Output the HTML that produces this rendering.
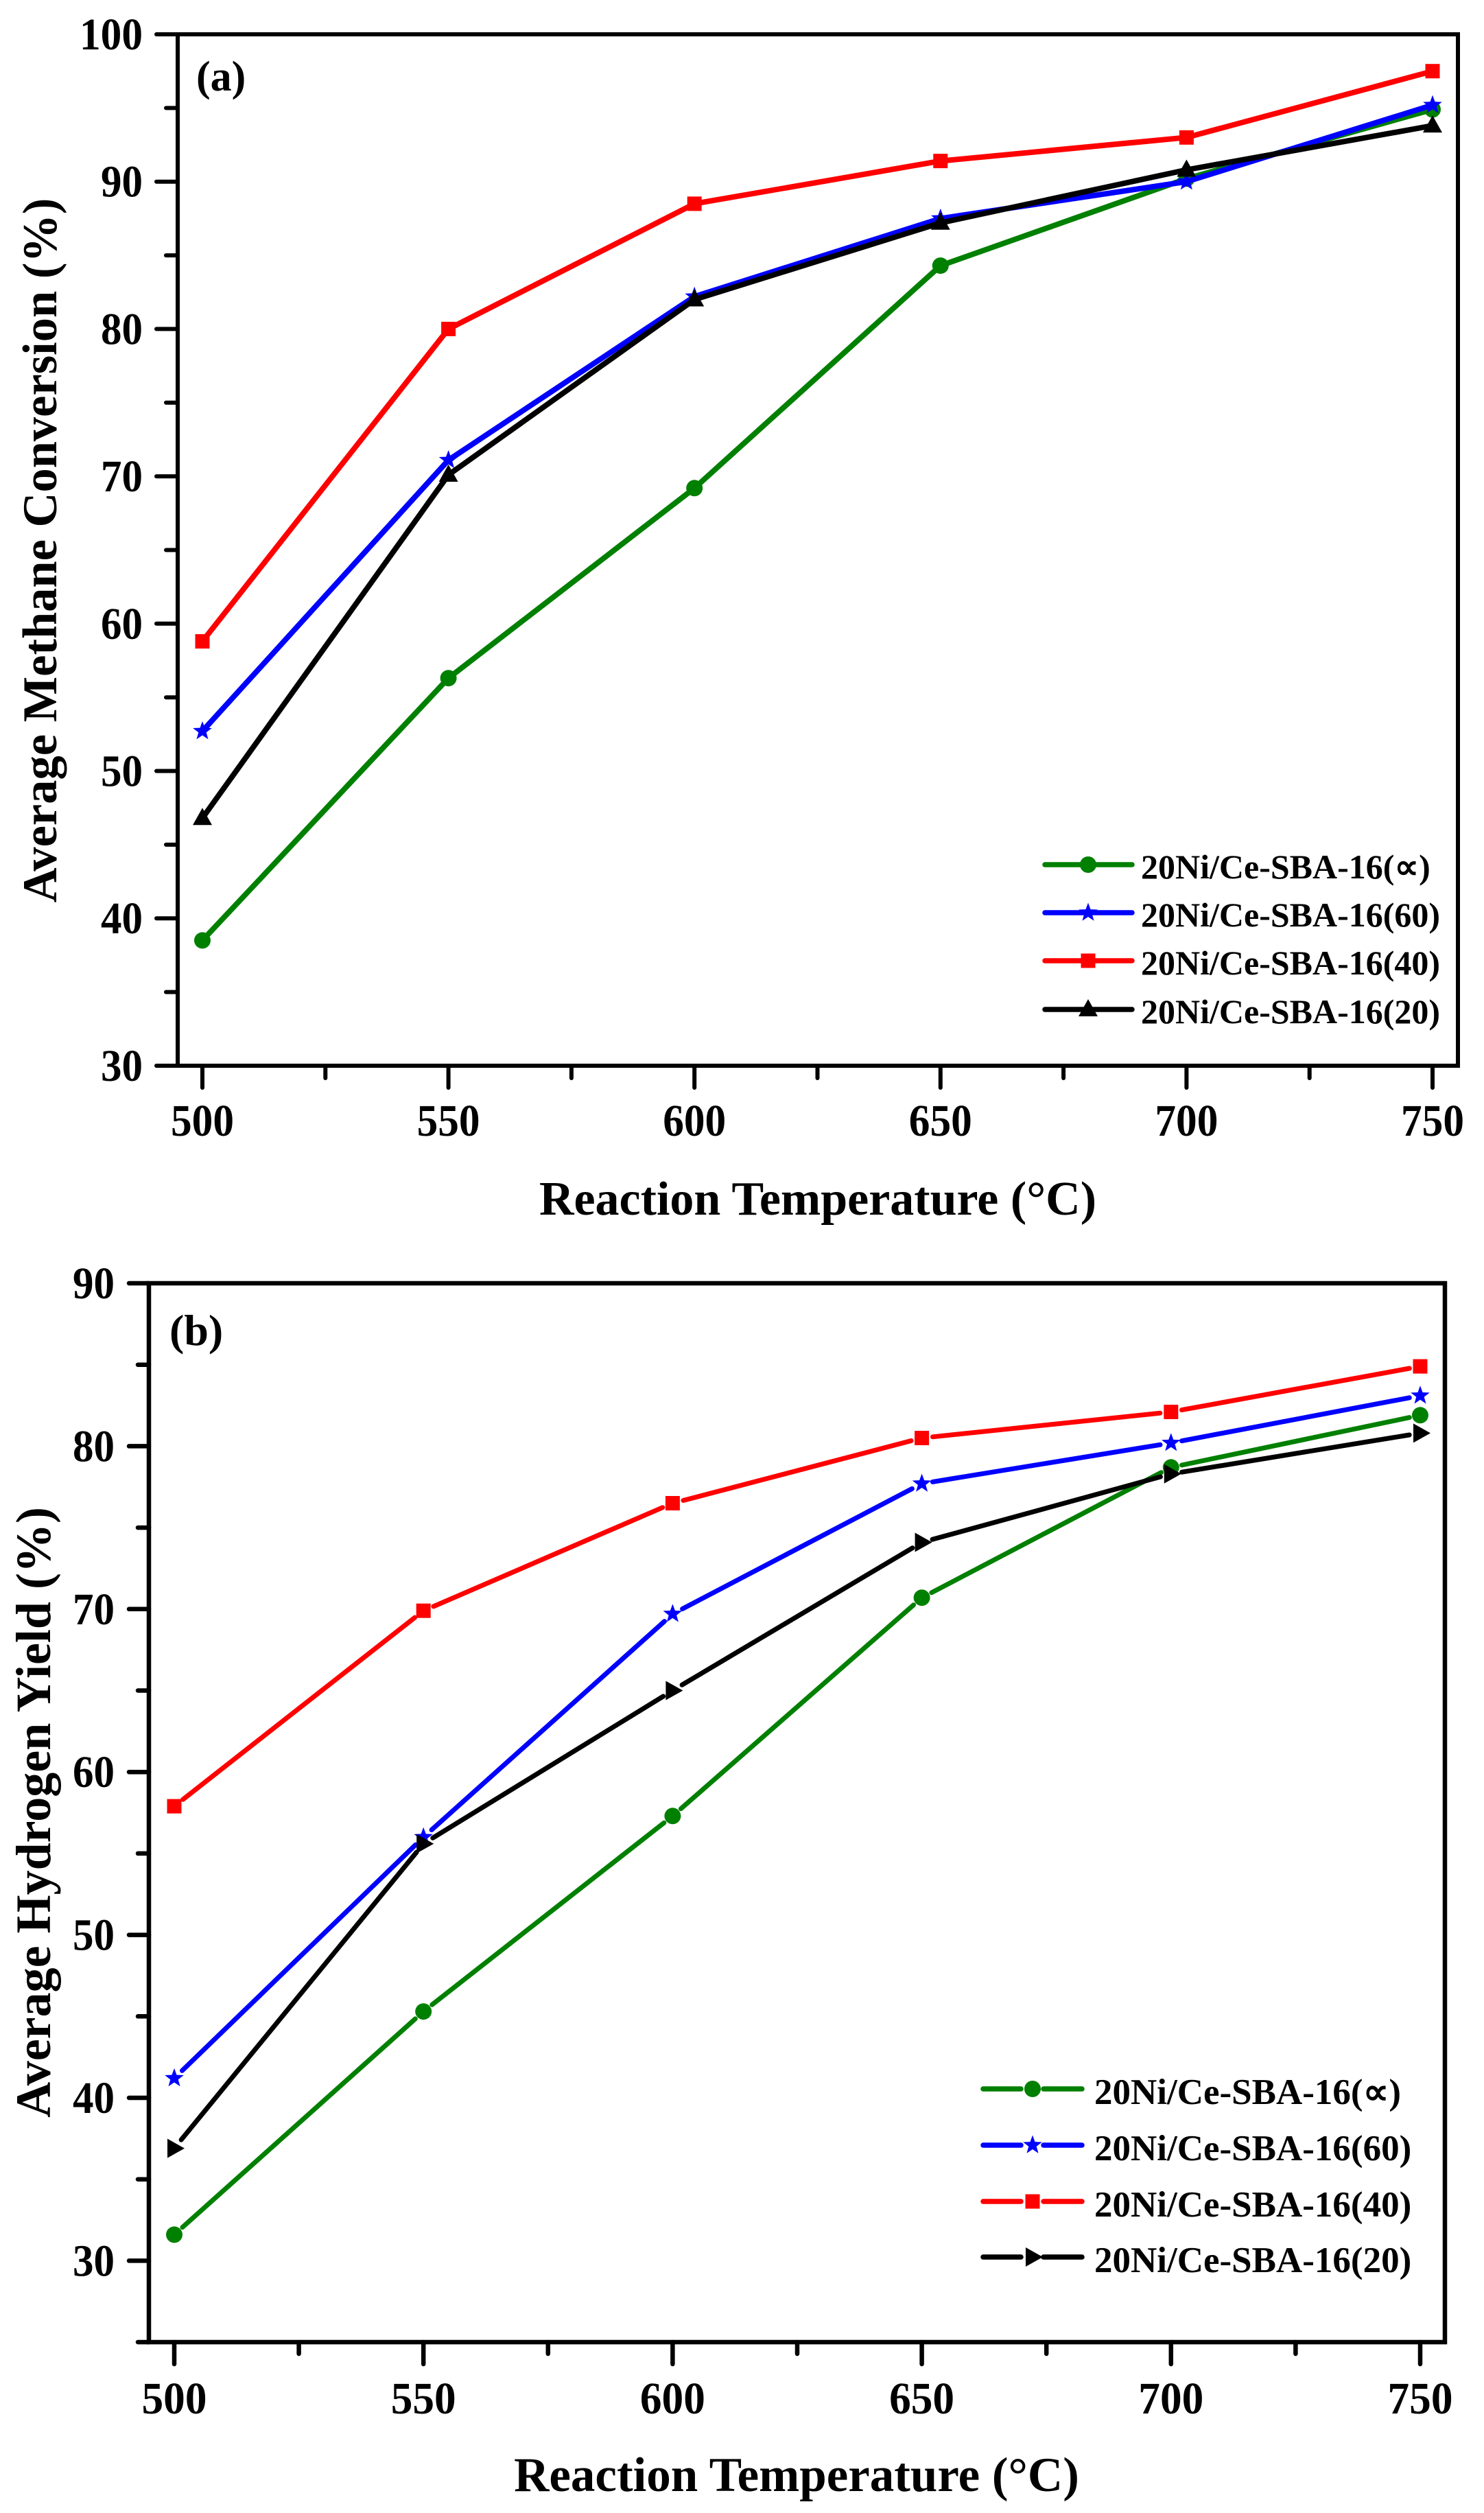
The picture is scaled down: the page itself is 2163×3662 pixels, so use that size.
<!DOCTYPE html>
<html>
<head>
<meta charset="utf-8">
<style>
html,body{margin:0;padding:0;background:#fff;}
svg{display:block;}
text{font-family:"Liberation Serif","Times New Roman",serif;font-weight:bold;fill:#000;}
</style>
</head>
<body>
<svg xmlns="http://www.w3.org/2000/svg" width="2163" height="3662" viewBox="0 0 2163 3662">
<rect x="0" y="0" width="2163" height="3662" fill="#fff"/>
<defs>
  <circle id="mc" cx="0" cy="0" r="12"/>
  <rect id="ms" x="-10.5" y="-10.5" width="21" height="21"/>
  <polygon id="mst" points="0,-14.5 3.53,-4.85 13.79,-4.48 5.71,1.85 8.52,11.73 0,6 -8.52,11.73 -5.71,1.85 -13.79,-4.48 -3.53,-4.85"/>
  <polygon id="mtu" points="0,-15 14,10 -14,10"/>
  <polygon id="mtr" points="-10,-14 15,0 -10,14"/>
</defs>

<!-- ================= PANEL (a) ================= -->
<g stroke="#000" stroke-width="6" stroke-linecap="round" fill="none">
  <rect x="259" y="50" width="1866" height="1503" stroke-linejoin="miter" stroke-linecap="butt"/>
  <line x1="228" y1="50" x2="259" y2="50"/>
  <line x1="228" y1="264.7" x2="259" y2="264.7"/>
  <line x1="228" y1="479.4" x2="259" y2="479.4"/>
  <line x1="228" y1="694.1" x2="259" y2="694.1"/>
  <line x1="228" y1="908.8" x2="259" y2="908.8"/>
  <line x1="228" y1="1123.5" x2="259" y2="1123.5"/>
  <line x1="228" y1="1338.2" x2="259" y2="1338.2"/>
  <line x1="228" y1="1553" x2="259" y2="1553"/>
  <line x1="242" y1="157.4" x2="259" y2="157.4"/>
  <line x1="242" y1="372.1" x2="259" y2="372.1"/>
  <line x1="242" y1="586.8" x2="259" y2="586.8"/>
  <line x1="242" y1="801.5" x2="259" y2="801.5"/>
  <line x1="242" y1="1016.2" x2="259" y2="1016.2"/>
  <line x1="242" y1="1230.9" x2="259" y2="1230.9"/>
  <line x1="242" y1="1445.6" x2="259" y2="1445.6"/>
  <line x1="295" y1="1553" x2="295" y2="1585"/>
  <line x1="653.6" y1="1553" x2="653.6" y2="1585"/>
  <line x1="1012.2" y1="1553" x2="1012.2" y2="1585"/>
  <line x1="1370.8" y1="1553" x2="1370.8" y2="1585"/>
  <line x1="1729.4" y1="1553" x2="1729.4" y2="1585"/>
  <line x1="2088" y1="1553" x2="2088" y2="1585"/>
  <line x1="474.3" y1="1553" x2="474.3" y2="1571"/>
  <line x1="832.9" y1="1553" x2="832.9" y2="1571"/>
  <line x1="1191.5" y1="1553" x2="1191.5" y2="1571"/>
  <line x1="1550.1" y1="1553" x2="1550.1" y2="1571"/>
  <line x1="1908.7" y1="1553" x2="1908.7" y2="1571"/>
</g>

<g font-size="66" text-anchor="end">
  <text x="208" y="72" textLength="92" lengthAdjust="spacingAndGlyphs">100</text>
  <text x="208" y="286.7" textLength="61" lengthAdjust="spacingAndGlyphs">90</text>
  <text x="208" y="501.4" textLength="61" lengthAdjust="spacingAndGlyphs">80</text>
  <text x="208" y="716.1" textLength="61" lengthAdjust="spacingAndGlyphs">70</text>
  <text x="208" y="930.8" textLength="61" lengthAdjust="spacingAndGlyphs">60</text>
  <text x="208" y="1145.5" textLength="61" lengthAdjust="spacingAndGlyphs">50</text>
  <text x="208" y="1360.2" textLength="61" lengthAdjust="spacingAndGlyphs">40</text>
  <text x="208" y="1575" textLength="61" lengthAdjust="spacingAndGlyphs">30</text>
</g>
<g font-size="66" text-anchor="middle">
  <text x="295" y="1655" textLength="92" lengthAdjust="spacingAndGlyphs">500</text>
  <text x="653.6" y="1655" textLength="92" lengthAdjust="spacingAndGlyphs">550</text>
  <text x="1012.2" y="1655" textLength="92" lengthAdjust="spacingAndGlyphs">600</text>
  <text x="1370.8" y="1655" textLength="92" lengthAdjust="spacingAndGlyphs">650</text>
  <text x="1729.4" y="1655" textLength="92" lengthAdjust="spacingAndGlyphs">700</text>
  <text x="2088" y="1655" textLength="92" lengthAdjust="spacingAndGlyphs">750</text>
</g>
<text x="1192" y="1770" font-size="70" text-anchor="middle">Reaction Temperature (°C)</text>
<text transform="translate(82,802) rotate(-90)" font-size="70.5" text-anchor="middle">Average Methane Conversion (%)</text>
<text x="286" y="132" font-size="62">(a)</text>

<polyline fill="none" stroke="#008000" stroke-width="8" stroke-linejoin="round" stroke-linecap="round" points="295,1370.4 653.6,988.2 1012.2,711.3 1370.8,387.1 1729.4,260.4 2088,159.5"/>
<g fill="#008000">
  <use href="#mc" x="295" y="1370.4"/><use href="#mc" x="653.6" y="988.2"/><use href="#mc" x="1012.2" y="711.3"/>
  <use href="#mc" x="1370.8" y="387.1"/><use href="#mc" x="1729.4" y="260.4"/><use href="#mc" x="2088" y="159.5"/>
</g>
<polyline fill="none" stroke="#0000ff" stroke-width="8" stroke-linejoin="round" stroke-linecap="round" points="295,1065.5 653.6,670.5 1012.2,432.2 1370.8,318.4 1729.4,264.7 2088,153.1"/>
<g fill="#0000ff">
  <use href="#mst" x="295" y="1065.5"/><use href="#mst" x="653.6" y="670.5"/><use href="#mst" x="1012.2" y="432.2"/>
  <use href="#mst" x="1370.8" y="318.4"/><use href="#mst" x="1729.4" y="264.7"/><use href="#mst" x="2088" y="153.1"/>
</g>
<polyline fill="none" stroke="#ff0000" stroke-width="8" stroke-linejoin="round" stroke-linecap="round" points="295,934.6 653.6,479.4 1012.2,296.9 1370.8,234.6 1729.4,200.3 2088,103.7"/>
<g fill="#ff0000">
  <use href="#ms" x="295" y="934.6"/><use href="#ms" x="653.6" y="479.4"/><use href="#ms" x="1012.2" y="296.9"/>
  <use href="#ms" x="1370.8" y="234.6"/><use href="#ms" x="1729.4" y="200.3"/><use href="#ms" x="2088" y="103.7"/>
</g>
<polyline fill="none" stroke="#000" stroke-width="8" stroke-linejoin="round" stroke-linecap="round" points="295,1192.2 653.6,692 1012.2,436.5 1370.8,324.8 1729.4,247.5 2088,183.1"/>
<g fill="#000">
  <use href="#mtu" x="295" y="1192.2"/><use href="#mtu" x="653.6" y="692"/><use href="#mtu" x="1012.2" y="436.5"/>
  <use href="#mtu" x="1370.8" y="324.8"/><use href="#mtu" x="1729.4" y="247.5"/><use href="#mtu" x="2088" y="183.1"/>
</g>

<g stroke-width="7.5" stroke-linecap="round">
  <line x1="1523" y1="1260" x2="1650" y2="1260" stroke="#008000"/>
  <line x1="1523" y1="1330" x2="1650" y2="1330" stroke="#0000ff"/>
  <line x1="1523" y1="1400" x2="1650" y2="1400" stroke="#ff0000"/>
  <line x1="1523" y1="1471" x2="1650" y2="1471" stroke="#000"/>
</g>
<use href="#mc" x="1586" y="1260" fill="#008000"/>
<use href="#mst" x="1586" y="1330" fill="#0000ff"/>
<use href="#ms" x="1586" y="1400" fill="#ff0000"/>
<use href="#mtu" x="1586" y="1471" fill="#000"/>
<g font-size="50">
  <text x="1663" y="1280">20Ni/Ce-SBA-16(∝)</text>
  <text x="1663" y="1350">20Ni/Ce-SBA-16(60)</text>
  <text x="1663" y="1420">20Ni/Ce-SBA-16(40)</text>
  <text x="1663" y="1491">20Ni/Ce-SBA-16(20)</text>
</g>

<!-- ================= PANEL (b) ================= -->
<g stroke="#000" stroke-width="6.5" stroke-linecap="round" fill="none">
  <rect x="217" y="1870" width="1889" height="1543" stroke-linejoin="miter" stroke-linecap="butt"/>
  <line x1="188" y1="1870" x2="217" y2="1870"/>
  <line x1="188" y1="2107.4" x2="217" y2="2107.4"/>
  <line x1="188" y1="2344.8" x2="217" y2="2344.8"/>
  <line x1="188" y1="2582.2" x2="217" y2="2582.2"/>
  <line x1="188" y1="2819.6" x2="217" y2="2819.6"/>
  <line x1="188" y1="3057" x2="217" y2="3057"/>
  <line x1="188" y1="3294.4" x2="217" y2="3294.4"/>
  <line x1="201" y1="1988.7" x2="217" y2="1988.7"/>
  <line x1="201" y1="2226.1" x2="217" y2="2226.1"/>
  <line x1="201" y1="2463.5" x2="217" y2="2463.5"/>
  <line x1="201" y1="2700.9" x2="217" y2="2700.9"/>
  <line x1="201" y1="2938.3" x2="217" y2="2938.3"/>
  <line x1="201" y1="3175.7" x2="217" y2="3175.7"/>
  <line x1="201" y1="3413" x2="217" y2="3413"/>
  <line x1="254" y1="3413" x2="254" y2="3445"/>
  <line x1="617.2" y1="3413" x2="617.2" y2="3445"/>
  <line x1="980.4" y1="3413" x2="980.4" y2="3445"/>
  <line x1="1343.6" y1="3413" x2="1343.6" y2="3445"/>
  <line x1="1706.8" y1="3413" x2="1706.8" y2="3445"/>
  <line x1="2070" y1="3413" x2="2070" y2="3445"/>
  <line x1="435.6" y1="3413" x2="435.6" y2="3430"/>
  <line x1="798.8" y1="3413" x2="798.8" y2="3430"/>
  <line x1="1162" y1="3413" x2="1162" y2="3430"/>
  <line x1="1525.2" y1="3413" x2="1525.2" y2="3430"/>
  <line x1="1888.4" y1="3413" x2="1888.4" y2="3430"/>
</g>

<g font-size="66" text-anchor="end">
  <text x="167" y="1892" textLength="61" lengthAdjust="spacingAndGlyphs">90</text>
  <text x="167" y="2129.4" textLength="61" lengthAdjust="spacingAndGlyphs">80</text>
  <text x="167" y="2366.8" textLength="61" lengthAdjust="spacingAndGlyphs">70</text>
  <text x="167" y="2604.2" textLength="61" lengthAdjust="spacingAndGlyphs">60</text>
  <text x="167" y="2841.6" textLength="61" lengthAdjust="spacingAndGlyphs">50</text>
  <text x="167" y="3079" textLength="61" lengthAdjust="spacingAndGlyphs">40</text>
  <text x="167" y="3316.4" textLength="61" lengthAdjust="spacingAndGlyphs">30</text>
</g>
<g font-size="66" text-anchor="middle">
  <text x="254" y="3517" textLength="95" lengthAdjust="spacingAndGlyphs">500</text>
  <text x="617.2" y="3517" textLength="95" lengthAdjust="spacingAndGlyphs">550</text>
  <text x="980.4" y="3517" textLength="95" lengthAdjust="spacingAndGlyphs">600</text>
  <text x="1343.6" y="3517" textLength="95" lengthAdjust="spacingAndGlyphs">650</text>
  <text x="1706.8" y="3517" textLength="95" lengthAdjust="spacingAndGlyphs">700</text>
  <text x="2070" y="3517" textLength="95" lengthAdjust="spacingAndGlyphs">750</text>
</g>
<text x="1161" y="3630" font-size="71" text-anchor="middle">Reaction Temperature (°C)</text>
<text transform="translate(73,2641) rotate(-90)" font-size="72" text-anchor="middle">Average Hydrogen Yield (%)</text>
<text x="247" y="1960" font-size="64">(b)</text>

<g fill="none" stroke-width="7" stroke-linecap="round" stroke="#008000">
  <line x1="265.9" y1="3245.7" x2="605.3" y2="2941.9"/>
  <line x1="629.8" y1="2921.3" x2="967.8" y2="2656.2"/>
  <line x1="992.4" y1="2635.8" x2="1331.6" y2="2338.7"/>
  <line x1="1357.8" y1="2320.8" x2="1692.6" y2="2145.7"/>
  <line x1="1722.5" y1="2135.0" x2="2054.3" y2="2065.6"/>
</g>
<g fill="#008000">
  <use href="#mc" x="254" y="3256.4"/><use href="#mc" x="617.2" y="2931.2"/><use href="#mc" x="980.4" y="2646.3"/>
  <use href="#mc" x="1343.6" y="2328.2"/><use href="#mc" x="1706.8" y="2138.3"/><use href="#mc" x="2070" y="2062.3"/>
</g>
<g fill="none" stroke-width="7" stroke-linecap="round" stroke="#0000ff">
  <line x1="265.5" y1="3017.4" x2="605.7" y2="2688.3"/>
  <line x1="629.1" y1="2666.5" x2="968.5" y2="2362.6"/>
  <line x1="994.6" y1="2344.5" x2="1329.4" y2="2169.4"/>
  <line x1="1359.4" y1="2159.4" x2="1691.0" y2="2105.3"/>
  <line x1="1722.5" y1="2099.7" x2="2054.3" y2="2036.8"/>
</g>
<g fill="#0000ff">
  <use href="#mst" x="254" y="3028.5"/><use href="#mst" x="617.2" y="2677.2"/><use href="#mst" x="980.4" y="2351.9"/>
  <use href="#mst" x="1343.6" y="2162"/><use href="#mst" x="1706.8" y="2102.7"/><use href="#mst" x="2070" y="2033.8"/>
</g>
<g fill="none" stroke-width="7" stroke-linecap="round" stroke="#ff0000">
  <line x1="266.6" y1="2622.2" x2="604.6" y2="2357.1"/>
  <line x1="631.9" y1="2340.9" x2="965.7" y2="2196.8"/>
  <line x1="995.9" y1="2186.5" x2="1328.1" y2="2099.5"/>
  <line x1="1359.5" y1="2093.8" x2="1690.9" y2="2059.2"/>
  <line x1="1722.5" y1="2054.6" x2="2054.3" y2="1994.0"/>
</g>
<g fill="#ff0000">
  <use href="#ms" x="254" y="2632.1"/><use href="#ms" x="617.2" y="2347.2"/><use href="#ms" x="980.4" y="2190.5"/>
  <use href="#ms" x="1343.6" y="2095.5"/><use href="#ms" x="1706.8" y="2057.5"/><use href="#ms" x="2070" y="1991.1"/>
</g>
<g fill="none" stroke-width="7" stroke-linecap="round" stroke="#000">
  <line x1="264.1" y1="3118.2" x2="607.1" y2="2699.1"/>
  <line x1="630.8" y1="2678.3" x2="966.8" y2="2471.9"/>
  <line x1="994.1" y1="2455.3" x2="1329.9" y2="2255.7"/>
  <line x1="1359.0" y1="2243.3" x2="1691.4" y2="2152.0"/>
  <line x1="1722.6" y1="2145.2" x2="2054.2" y2="2091.0"/>
</g>
<g fill="#000">
  <use href="#mtr" x="254" y="3130.6"/><use href="#mtr" x="617.2" y="2686.7"/><use href="#mtr" x="980.4" y="2463.5"/>
  <use href="#mtr" x="1343.6" y="2247.5"/><use href="#mtr" x="1706.8" y="2147.8"/><use href="#mtr" x="2070" y="2088.4"/>
</g>

<g stroke-width="7.5" stroke-linecap="round">
  <line x1="1433" y1="3044" x2="1488" y2="3044" stroke="#008000"/>
  <line x1="1521" y1="3044" x2="1577" y2="3044" stroke="#008000"/>
  <line x1="1433" y1="3126" x2="1488" y2="3126" stroke="#0000ff"/>
  <line x1="1521" y1="3126" x2="1577" y2="3126" stroke="#0000ff"/>
  <line x1="1433" y1="3208" x2="1488" y2="3208" stroke="#ff0000"/>
  <line x1="1521" y1="3208" x2="1577" y2="3208" stroke="#ff0000"/>
  <line x1="1433" y1="3289" x2="1488" y2="3289" stroke="#000"/>
  <line x1="1521" y1="3289" x2="1577" y2="3289" stroke="#000"/>
</g>
<use href="#mc" x="1505" y="3044" fill="#008000"/>
<use href="#mst" x="1505" y="3126" fill="#0000ff"/>
<use href="#ms" x="1505" y="3208" fill="#ff0000"/>
<use href="#mtr" x="1505" y="3289" fill="#000"/>
<g font-size="53">
  <text x="1595" y="3066">20Ni/Ce-SBA-16(∝)</text>
  <text x="1595" y="3148">20Ni/Ce-SBA-16(60)</text>
  <text x="1595" y="3230">20Ni/Ce-SBA-16(40)</text>
  <text x="1595" y="3311">20Ni/Ce-SBA-16(20)</text>
</g>
</svg>
</body>
</html>
